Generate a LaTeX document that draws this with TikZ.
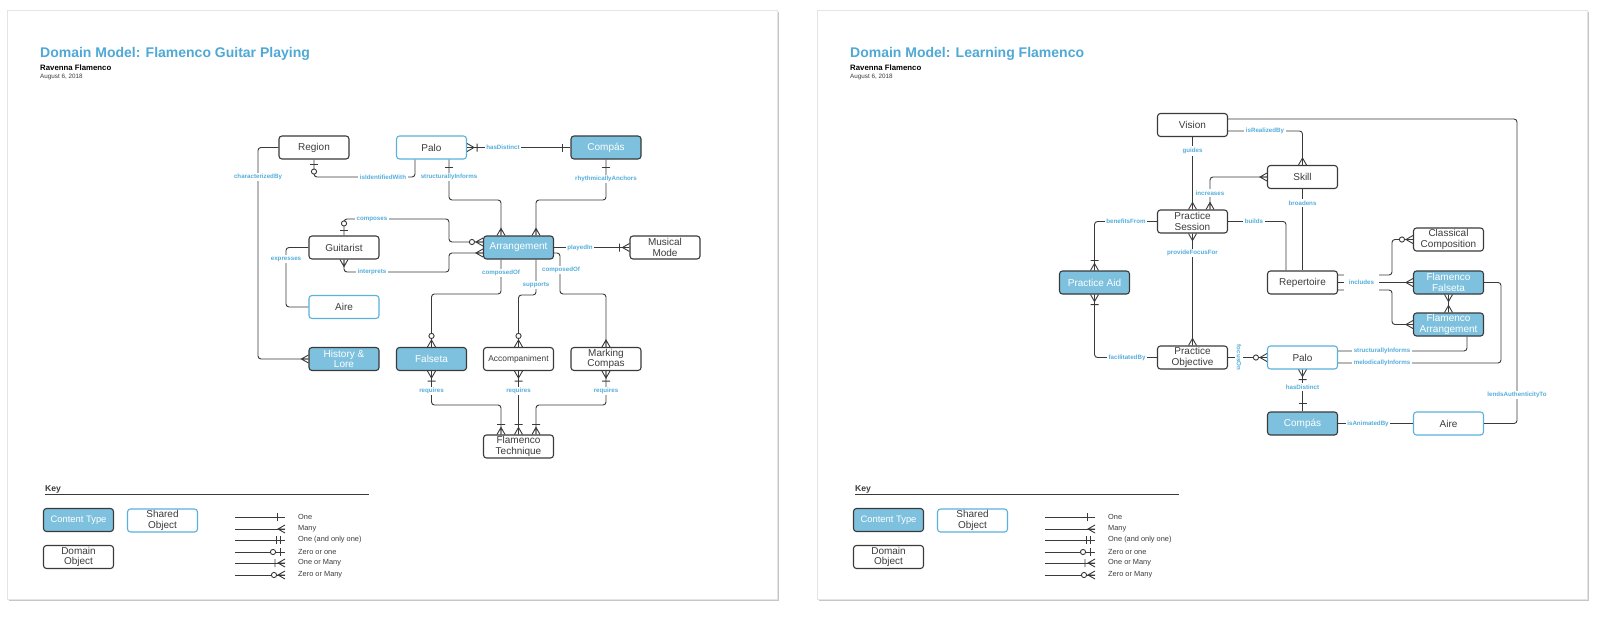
\documentclass[tikz,border=0pt]{standalone}
\usepackage{fontspec}
\setmainfont{Liberation Sans}
\definecolor{darkline}{HTML}{3A3A3A}
\definecolor{textgrey}{HTML}{3C3C3C}
\definecolor{titleblue}{HTML}{4FA9D6}
\definecolor{contentblue}{HTML}{7EC1DE}
\definecolor{sharedblue}{HTML}{5AB2DC}
\definecolor{lblblue}{HTML}{55AEDB}
\definecolor{framegrey}{HTML}{E4E4E4}
\definecolor{shadowgrey}{HTML}{C6C6C6}
\newcommand\nodefont{\fontsize{10}{10.6}\selectfont}
\newcommand\smallnodefont{\fontsize{8.4}{9}\selectfont}
\newcommand\keyboxfont{\fontsize{9.4}{10}\selectfont}
\newcommand\lblfont{\fontsize{6.2}{6.5}\selectfont\bfseries}
\newcommand\keyfont{\fontsize{7.4}{8}\selectfont}
\newcommand\keytitlefont{\fontsize{8.6}{9}\selectfont\bfseries}
\newcommand\titlefont{\fontsize{14}{15}\selectfont\bfseries}
\newcommand\authorfont{\fontsize{7.8}{8}\selectfont\bfseries}
\newcommand\datefont{\fontsize{6.3}{7}\selectfont}
\tikzset{
  base/.style={rounded corners=3pt, minimum width=70pt, minimum height=23pt,
    line width=1.1pt, align=center, font=\nodefont, inner sep=1pt},
  domainobj/.style={base, draw=darkline, fill=white, text=textgrey},
  sharedobj/.style={base, draw=sharedblue, fill=white, text=textgrey},
  contentobj/.style={base, draw=darkline, fill=contentblue, text=white},
  conn/.style={draw=darkline, line width=0.9pt, rounded corners=3pt},
  mk/.style={draw=darkline, line width=0.9pt},
  lbl/.style={fill=white, text=lblblue, font=\lblfont, inner sep=1.6pt},
  pmany/.pic={\draw[mk] (0,4) -- (7,0) -- (0,-4) (0,0) -- (7,0);},
  pone/.pic={\draw[mk] (8,-4) -- (8,4);},
  ponlyone/.pic={\draw[mk] (5,-4) -- (5,4) (9,-4) -- (9,4);},
  ponemany/.pic={\draw[mk] (0,4) -- (7,0) -- (0,-4) (0,0) -- (7,0) (10,-4) -- (10,4);},
  pzeromany/.pic={\draw[mk] (0,4) -- (7,0) -- (0,-4) (0,0) -- (7,0);
    \draw[mk,fill=white] (11,0) circle[radius=2.6pt];},
  pzeroone/.pic={\draw[mk] (5,-4) -- (5,4); \draw[mk,fill=white] (12,0) circle[radius=2.6pt];},
}
\newcommand\drawkey[2]{%
  \node[anchor=base west, font=\keytitlefont, text=textgrey, inner sep=0pt] (#1key) at (45+#2,491) {Key};
  \coordinate (#1kl) at (45+#2,494.5);
  \coordinate (#1kr) at (369+#2,494.5);
  \draw[darkline, line width=0.8pt] (#1kl) -- (#1kr);
  \node[contentobj, font=\keyboxfont] (#1ct) at (78.5+#2,520) {Content Type};
  \node[sharedobj] (#1so) at (162.5+#2,520.5) {Shared\\Object};
  \node[domainobj] (#1do) at (78.5+#2,557) {Domain\\Object};
  \coordinate (#1a1) at (235+#2,517); \coordinate (#1b1) at (285+#2,517);
  \coordinate (#1a2) at (235+#2,529); \coordinate (#1b2) at (285+#2,529);
  \coordinate (#1a3) at (235+#2,540); \coordinate (#1b3) at (285+#2,540);
  \coordinate (#1a4) at (235+#2,552); \coordinate (#1b4) at (285+#2,552);
  \coordinate (#1a5) at (235+#2,563); \coordinate (#1b5) at (285+#2,563);
  \coordinate (#1a6) at (235+#2,575); \coordinate (#1b6) at (285+#2,575);
  \draw[conn] (#1a1) -- (#1b1); \pic[rotate=180] at (#1b1) {pone};
  \draw[conn] (#1a2) -- (#1b2); \pic[rotate=180] at (#1b2) {pmany};
  \draw[conn] (#1a3) -- (#1b3); \pic[rotate=180] at (#1b3) {ponlyone};
  \draw[conn] (#1a4) -- (#1b4); \pic[rotate=180] at (#1b4) {pzeroone};
  \draw[conn] (#1a5) -- (#1b5); \pic[rotate=180] at (#1b5) {ponemany};
  \draw[conn] (#1a6) -- (#1b6); \pic[rotate=180] at (#1b6) {pzeromany};
  \node[anchor=west, font=\keyfont, text=textgrey, inner sep=0pt] (#1t1) at (298+#2,517) {One};
  \node[anchor=west, font=\keyfont, text=textgrey, inner sep=0pt] (#1t2) at (298+#2,529) {Many};
  \node[anchor=west, font=\keyfont, text=textgrey, inner sep=0pt] (#1t3) at (298+#2,540) {One (and only one)};
  \node[anchor=west, font=\keyfont, text=textgrey, inner sep=0pt] (#1t4) at (298+#2,552) {Zero or one};
  \node[anchor=west, font=\keyfont, text=textgrey, inner sep=0pt] (#1t5) at (298+#2,563) {One or Many};
  \node[anchor=west, font=\keyfont, text=textgrey, inner sep=0pt] (#1t6) at (298+#2,575) {Zero or Many};
}
\begin{document}
\begin{tikzpicture}[x=1pt,y=-1pt]
\useasboundingbox (0,0) rectangle (1600,618);
\fill[white] (0,0) rectangle (1600,618);
% pages
\draw[shadowgrey, line width=1.6pt] (9,600) -- (778.5,600) -- (778.5,12);
\draw[framegrey, line width=0.6pt] (7,10) rectangle (777,599);
\draw[shadowgrey, line width=1.6pt] (819,600) -- (1588.5,600) -- (1588.5,12);
\draw[framegrey, line width=0.6pt] (817,10) rectangle (1587,599);

% titles
\node[anchor=base west, inner sep=0pt, font=\titlefont, text=titleblue] (t1) at (40,58) {Domain Model: Flamenco Guitar Playing};
\node[anchor=west, inner sep=0pt, font=\authorfont, text=black] (a1) at (40,68) {Ravenna Flamenco};
\node[anchor=west, inner sep=0pt, font=\datefont, text=textgrey] (d1) at (40,77) {August 6, 2018};
\node[anchor=base west, inner sep=0pt, font=\titlefont, text=titleblue] (t2) at (850,58) {Domain Model: Learning Flamenco};
\node[anchor=west, inner sep=0pt, font=\authorfont, text=black] (a2) at (850,68) {Ravenna Flamenco};
\node[anchor=west, inner sep=0pt, font=\datefont, text=textgrey] (d2) at (850,77) {August 6, 2018};

% ===== left diagram nodes
\node[domainobj] (region) at (314,147.5) {Region};
\node[sharedobj] (palo) at (431.5,147.5) {Palo};
\node[contentobj] (compas) at (606,147.5) {Compás};
\node[domainobj] (guitarist) at (344,247.5) {Guitarist};
\node[contentobj] (arrangement) at (518.5,247.5) {Arrangement};
\node[domainobj] (mode) at (665,247.5) {Musical\\Mode};
\node[sharedobj] (aire) at (344,307) {Aire};
\node[contentobj] (history) at (344,359) {History \&\\Lore};
\node[contentobj] (falseta) at (431.5,359) {Falseta};
\node[domainobj, font=\smallnodefont] (accomp) at (518.5,359) {Accompaniment};
\node[domainobj] (marking) at (606,359) {Marking\\Compas};
\node[domainobj] (technique) at (518.5,446.5) {Flamenco\\Technique};

% left connectors
\draw[conn] (region.south) -- (314,177) -- (415,177) -- ([xshift=-16.5pt]palo.south);
\pic[rotate=-90] at (region.south) {pzeroone};
\node[lbl] (l1) at (383,177) {isIdentifiedWith};

\draw[conn] (region.west) -- (258,147.5) -- (258,359) -- (history.west);
\pic[rotate=180] at (history.west) {pmany};
\node[lbl] (l2) at (258,177) {characterizedBy};

\draw[conn] (palo.east) -- (compas.west);
\pic at (palo.east) {ponemany};
\pic[rotate=180] at (compas.west) {pone};
\node[lbl] (l3) at (503,147.5) {hasDistinct};

\draw[conn] ([xshift=17.5pt]palo.south) -- (449,200) -- (501,200) -- ([xshift=-17.5pt]arrangement.north);
\pic[rotate=-90] at ([xshift=17.5pt]palo.south) {pone};
\pic[rotate=90] at ([xshift=-17.5pt]arrangement.north) {pmany};
\node[lbl] (l4) at (449,177) {structurallyInforms};

\draw[conn] (compas.south) -- (606,200) -- (536,200) -- ([xshift=17.5pt]arrangement.north);
\pic[rotate=-90] at (compas.south) {pone};
\pic[rotate=90] at ([xshift=17.5pt]arrangement.north) {pmany};
\node[lbl] (l5) at (606,179) {rhythmicallyAnchors};

\draw[conn] (guitarist.north) -- (344,219) -- (449,219) -- (449,242) -- ([yshift=5.5pt]arrangement.west);
\pic[rotate=90] at (guitarist.north) {pzeroone};
\pic[rotate=180] at ([yshift=5.5pt]arrangement.west) {pzeromany};
\node[lbl] (l6) at (372,219) {composes};

\draw[conn] (guitarist.south) -- (344,272) -- (449,272) -- (449,253) -- ([yshift=-5.5pt]arrangement.west);
\pic[rotate=-90] at (guitarist.south) {pmany};
\pic[rotate=180] at ([yshift=-5.5pt]arrangement.west) {pmany};
\node[lbl] (l7) at (372,272) {interprets};

\draw[conn] (guitarist.west) -- (286,247.5) -- (286,307) -- (aire.west);
\node[lbl] (l8) at (286,259) {expresses};

\draw[conn] (arrangement.east) -- (mode.west);
\pic[rotate=180] at (mode.west) {ponemany};
\node[lbl] (l9) at (580,247.5) {playedIn};

\draw[conn] ([xshift=-17.5pt]arrangement.south) -- (501,294) -- (431.5,294) -- (falseta.north);
\pic[rotate=90] at (falseta.north) {pzeromany};
\node[lbl] (l10) at (501,273) {composedOf};

\draw[conn] ([xshift=17.5pt]arrangement.south) -- (536,295) -- (518.5,295) -- (accomp.north);
\pic[rotate=90] at (accomp.north) {pzeromany};
\node[lbl] (l11) at (536,285) {supports};

\draw[conn] ([yshift=-5.5pt]arrangement.east) -- (560,253) -- (560,294) -- (606,294) -- (marking.north);
\pic[rotate=90] at (marking.north) {pmany};
\node[lbl] (l12) at (561,270) {composedOf};

\draw[conn] (falseta.south) -- (431.5,405) -- (501,405) -- ([xshift=-17.5pt]technique.north);
\draw[conn] (accomp.south) -- (technique.north);
\draw[conn] (marking.south) -- (606,405) -- (536,405) -- ([xshift=17.5pt]technique.north);
\pic[rotate=-90] at (falseta.south) {ponemany};
\pic[rotate=-90] at (accomp.south) {ponemany};
\pic[rotate=-90] at (marking.south) {ponemany};
\pic[rotate=90] at ([xshift=-17.5pt]technique.north) {ponemany};
\pic[rotate=90] at (technique.north) {ponemany};
\pic[rotate=90] at ([xshift=17.5pt]technique.north) {ponemany};
\node[lbl] (l13) at (431.5,391) {requires};
\node[lbl] (l14) at (518.5,391) {requires};
\node[lbl] (l15) at (606,391) {requires};

% ===== right diagram nodes
\node[domainobj] (vision) at (1192.5,125) {Vision};
\node[domainobj] (skill) at (1302.5,177) {Skill};
\node[domainobj] (session) at (1192.5,221.5) {Practice\\Session};
\node[domainobj] (classical) at (1448.5,239.5) {Classical\\Composition};
\node[contentobj] (aid) at (1094.5,282.5) {Practice Aid};
\node[domainobj] (repertoire) at (1302.5,282.5) {Repertoire};
\node[contentobj] (rfalseta) at (1448.5,282.5) {Flamenco\\Falseta};
\node[contentobj] (rarr) at (1448.5,324.5) {Flamenco\\Arrangement};
\node[domainobj] (objective) at (1192.5,357.5) {Practice\\Objective};
\node[sharedobj] (rpalo) at (1302.5,357.5) {Palo};
\node[contentobj] (rcompas) at (1302.5,423.5) {Compás};
\node[sharedobj] (raire) at (1448.5,423.5) {Aire};

% right connectors
\draw[conn] ([yshift=-6pt]vision.east) -- (1302.5,131) -- (skill.north);
\pic[rotate=90] at (skill.north) {pmany};
\node[lbl] (r1) at (1265,131) {isRealizedBy};

\draw[conn] ([yshift=6pt]vision.east) -- (1517,119) -- (1517,423.5) -- (raire.east);
\node[lbl] (r2) at (1517,395) {lendsAuthenticityTo};

\draw[conn] (vision.south) -- (session.north);
\pic[rotate=90] at (session.north) {pmany};
\node[lbl] (r3) at (1192.5,151) {guides};

\draw[conn] (skill.west) -- (1210,177) -- ([xshift=17.5pt]session.north);
\pic[rotate=180] at (skill.west) {pmany};
\pic[rotate=90] at ([xshift=17.5pt]session.north) {pmany};
\node[lbl] (r4) at (1210,193) {increases};

\draw[conn] (skill.south) -- (repertoire.north);
\node[lbl] (r5) at (1302.5,203) {broadens};

\draw[conn] (session.east) -- (1286,221.5) -- ([xshift=-16.5pt]repertoire.north);
\node[lbl] (r6) at (1254,221.5) {builds};

\draw[conn] (session.west) -- (1094.5,221.5) -- (aid.north);
\pic[rotate=90] at (aid.north) {ponemany};
\node[lbl] (r7) at (1126,221.5) {benefitsFrom};

\draw[conn] (session.south) -- (objective.north);
\pic[rotate=-90] at (session.south) {pmany};
\pic[rotate=90] at (objective.north) {pmany};
\node[lbl] (r8) at (1192.5,253) {provideFocusFor};

\draw[conn] (aid.south) -- (1094.5,357.5) -- (objective.west);
\pic[rotate=-90] at (aid.south) {ponemany};
\node[lbl] (r9) at (1127,357.5) {facilitatedBy};

\draw[conn] (objective.east) -- (rpalo.west);
\pic[rotate=180] at (rpalo.west) {pzeromany};
\node[lbl, rotate=-90] (r10) at (1239,357.5) {focusOn};

\draw[conn] (rpalo.south) -- (rcompas.north);
\pic[rotate=-90] at (rpalo.south) {ponemany};
\pic[rotate=90] at (rcompas.north) {pone};
\node[lbl] (r11) at (1302.5,387) {hasDistinct};

\draw[conn] (rcompas.east) -- (raire.west);
\node[lbl] (r12) at (1368,423.5) {isAnimatedBy};

\draw[conn] ([yshift=7.5pt]repertoire.east) -- (1392,275) -- (1392,239.5) -- (classical.west);
\draw[conn] (repertoire.east) -- (rfalseta.west);
\draw[conn] ([yshift=-7.5pt]repertoire.east) -- (1392,290) -- (1392,324.5) -- (rarr.west);
\pic[rotate=180] at (classical.west) {pzeromany};
\pic[rotate=180] at (rfalseta.west) {pmany};
\pic[rotate=180] at (rarr.west) {pmany};
\node[lbl, minimum height=21pt, inner xsep=5pt] (r13) at (1361.5,282.5) {includes};

\draw[conn] (rfalseta.south) -- (rarr.north);
\pic[rotate=-90] at (rfalseta.south) {pmany};
\pic[rotate=90] at (rarr.north) {pmany};

\draw[conn] ([yshift=6.5pt]rpalo.east) -- (1467,351) -- ([xshift=18.5pt]rarr.south);
\node[lbl] (r14) at (1382,351) {structurallyInforms};

\draw[conn] ([yshift=-5.5pt]rpalo.east) -- (1501,363) -- (1501,282.5) -- (rfalseta.east);
\node[lbl] (r15) at (1382,363) {melodicallyInforms};

% keys
\drawkey{kA}{0}
\drawkey{kB}{810}
\end{tikzpicture}
\end{document}
